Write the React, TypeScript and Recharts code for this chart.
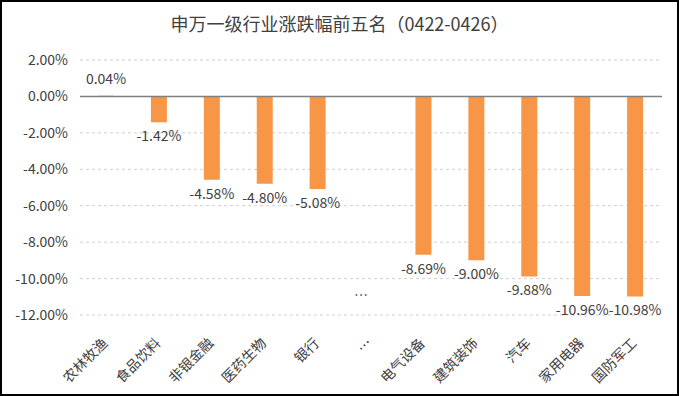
import React from 'react';
import {
    BarChart,
    Bar,
    XAxis,
    YAxis,
    CartesianGrid,
    ReferenceLine,
    ReferenceDot,
    LabelList
} from 'recharts';

const categories = ['农林牧渔', '食品饮料', '非银金融', '医药生物', '银行', '…', '电气设备', '建筑装饰', '汽车', '家用电器', '国防军工'];
const changes: (number | null)[] = [0.04, -1.42, -4.58, -4.80, -5.08, null, -8.69, -9.00, -9.88, -10.96, -10.98];
const yTicks = [2, 0, -2, -4, -6, -8, -10, -12];
const gapMarker = { category: '…', value: -10.9 };

const data = categories.map((name, i) => ({ name, change: changes[i] }));

const FONT = "'Noto Sans CJK SC', 'DejaVu Sans', sans-serif";
const TEXT = '#404040';

const fmt = (v: number) => `${v.toFixed(2)}%`;

const XTick = ({ x, y, payload }: any) => (
    <g transform={`translate(${x - 5},${y + 14})`}>
        <text x={0} y={0} dy={10} textAnchor="end" transform="rotate(-45)"
            fontSize={14} fill={TEXT} fontFamily={FONT}>
            {payload.value}
        </text>
    </g>
);

// value labels: above the bar when positive, below when negative
const ValueLabel = (props: any) => {
    const { x, y, width, height, value } = props;
    if (value === null || value === undefined) return null;
    const cx = x + width / 2;
    const top = Math.min(y, y + height);
    const bottom = Math.max(y, y + height);
    const neg = value < 0;
    return (
        <text x={cx} y={neg ? bottom + 19 : top - 12} textAnchor="middle"
            fontSize={14} fill={TEXT} fontFamily={FONT}>
            {fmt(value)}
        </text>
    );
};

const App: React.FC = () => {
    return (
        <div style={{ position: 'absolute', left: 0, top: 0, width: 679, height: 396, background: '#fff' }}>
            <div style={{
                position: 'absolute',
                top: 10,
                left: 0,
                width: 679,
                textAlign: 'center',
                fontFamily: FONT,
                fontSize: 18,
                color: TEXT
            }}>
                申万一级行业涨跌幅前五名（0422-0426）
            </div>
            <BarChart
                width={679}
                height={396}
                data={data}
                margin={{ top: 60, right: 17, bottom: 0, left: 0 }}
                barCategoryGap="20%"
            >
                <CartesianGrid strokeDasharray="3 3" stroke="#d0d0d0" vertical={false} />
                <XAxis
                    dataKey="name"
                    interval={0}
                    height={81}
                    axisLine={false}
                    tickLine={false}
                    tick={<XTick />}
                />
                <YAxis
                    width={80}
                    domain={[-12, 2]}
                    ticks={yTicks}
                    interval={0}
                    axisLine={false}
                    tickLine={false}
                    tickMargin={6}
                    tickFormatter={fmt}
                    tick={{ fill: TEXT, fontSize: 14, fontFamily: FONT }}
                />
                <Bar dataKey="change" fill="#F79646" barSize={16} isAnimationActive={false}>
                    <LabelList dataKey="change" content={<ValueLabel />} />
                </Bar>
                <ReferenceLine y={0} stroke="#808080" strokeWidth={1.5} />
                <ReferenceDot
                    x={gapMarker.category}
                    y={gapMarker.value}
                    r={0}
                    label={{ value: '…', position: 'center', fill: TEXT, fontSize: 14, fontFamily: FONT, dx: -10 }}
                />
            </BarChart>
            <div style={{
                position: 'absolute',
                inset: 0,
                border: '2px solid #000',
                pointerEvents: 'none'
            }} />
        </div>
    );
};

export default App;
